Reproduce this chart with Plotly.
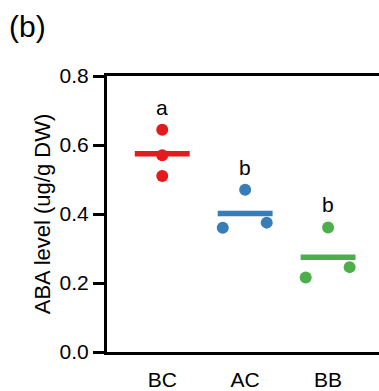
import numpy as np
import plotly.graph_objects as go

categories = ["BC", "AC", "BB"]
values_BC = [0.644, 0.570, 0.510]
values_AC = [0.470, 0.360, 0.375]
values_BB = [0.361, 0.216, 0.246]
jitter_BC = [0.0, 0.0, 0.0]
jitter_AC = [0.0, -0.27, 0.26]
jitter_BB = [0.0, -0.27, 0.26]
sig_letters = ["a", "b", "b"]
y_ticks = [0.0, 0.2, 0.4, 0.6, 0.8]

colors = ["#E41A1C", "#377EB8", "#4DAF4A"]
groups = [values_BC, values_AC, values_BB]
jitters = [jitter_BC, jitter_AC, jitter_BB]

font = "Liberation Sans, Arial, sans-serif"

fig = go.Figure()
half = 0.331
for i, (vals, col) in enumerate(zip(groups, colors)):
    m = float(np.mean(vals))
    fig.add_trace(go.Scatter(x=[i - half, i + half], y=[m, m], mode="lines",
                             line=dict(color=col, width=5.5), showlegend=False,
                             hoverinfo="skip"))
for i, (vals, jit, col) in enumerate(zip(groups, jitters, colors)):
    fig.add_trace(go.Scatter(x=[i + j for j in jit], y=vals, mode="markers",
                             marker=dict(color=col, size=12, line=dict(width=0)),
                             showlegend=False, name=categories[i]))

for i, (vals, lab) in enumerate(zip(groups, sig_letters)):
    fig.add_annotation(x=i, y=max(vals), text=lab, showarrow=False,
                       xref="x", yref="y", yanchor="bottom", yshift=9,
                       font=dict(family=font, size=21, color="black"))

fig.update_layout(
    width=379, height=391,
    margin=dict(l=107, r=0, t=76, b=39, autoexpand=False),
    paper_bgcolor="white", plot_bgcolor="white",
    font=dict(family=font, color="black"),
    title=dict(text="(b)", x=9/379, xanchor="left", xref="container",
               y=1 - 26/391, yanchor="middle", yref="container", automargin=False,
               font=dict(family=font, size=30, color="black")),
    xaxis=dict(range=[-0.666, 2.614], tickvals=[0, 1, 2], ticktext=categories,
               showline=True, linewidth=3, linecolor="black", mirror=True,
               ticks="", showgrid=False, zeroline=False, automargin=False,
               tickfont=dict(family=font, size=21, color="black"),
               ticklabelstandoff=7),
    yaxis=dict(range=[0, 0.8], tickvals=y_ticks, ticktext=[f"{v:.1f}" for v in y_ticks],
               showline=True, linewidth=3, linecolor="black",
               ticks="outside", ticklen=11, tickwidth=2.5, tickcolor="black",
               showgrid=False, zeroline=False, automargin=False,
               tickfont=dict(family=font, size=21, color="black"),
               title=dict(text="ABA level (ug/g DW)", standoff=3,
                          font=dict(family=font, size=22, color="black"))),
)

fig.write_html("out.html", config={"displayModeBar": False},
               post_script="document.body.style.margin='0';document.body.style.padding='0';"
                           "document.body.style.overflow='hidden';")
